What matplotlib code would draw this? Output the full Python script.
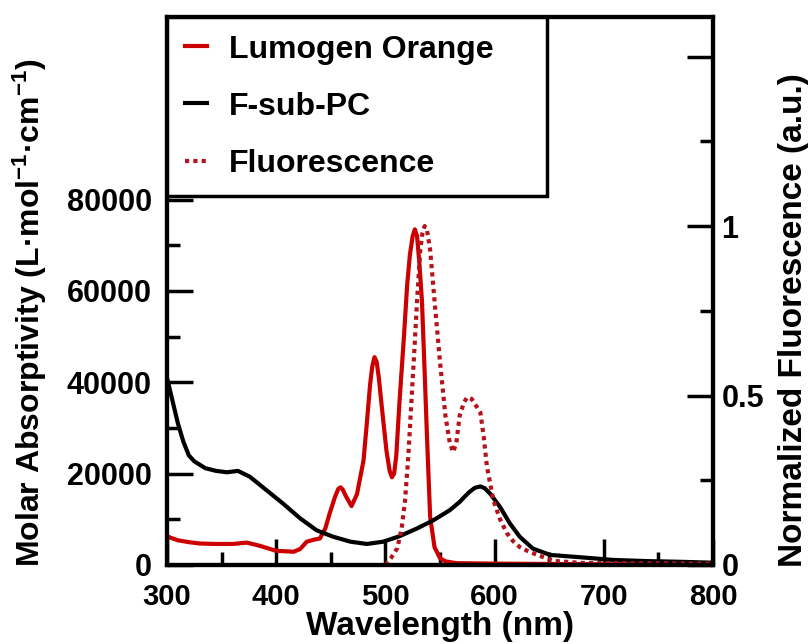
import numpy as np
import matplotlib
matplotlib.use("Agg")
import matplotlib.pyplot as plt
from matplotlib.ticker import MultipleLocator, FixedLocator

plt.rcParams['font.family'] = ['Liberation Sans', 'DejaVu Sans']
plt.rcParams['font.weight'] = 'bold'
plt.rcParams['mathtext.fontset'] = 'custom'
plt.rcParams['mathtext.rm'] = 'Liberation Sans:bold'
plt.rcParams['mathtext.bf'] = 'Liberation Sans:bold'
plt.rcParams['mathtext.default'] = 'regular'

# F-sub-PC absorption (molar absorptivity)
wl_pc = [300, 304, 310, 315, 320, 325, 335, 345, 355, 365, 376, 391, 406, 422, 437,
         452, 468, 483, 498, 513, 529, 544, 559, 568, 572, 577, 582, 587, 591, 596,
         605, 614, 623, 635, 651, 678, 709, 740, 770, 800]
eps_pc = [41000, 37000, 31000, 27000, 24000, 22700, 21200, 20600, 20300, 20600, 19300,
          16400, 13500, 10200, 7600, 6200, 5100, 4600, 5100, 6300, 8000, 9800, 12000,
          13800, 14800, 16000, 16900, 17200, 16800, 15600, 12700, 9100, 6200, 3600,
          2200, 1700, 1100, 850, 700, 500]

# Lumogen Orange absorption
wl_lo = [300, 303, 310, 320, 330, 345, 360, 373, 385, 400, 416, 422, 428, 434, 440,
         445, 449, 454, 457, 459, 461, 464, 469, 474, 480, 483, 486, 488, 490, 492,
         494, 497, 501, 504, 506, 508, 510, 513, 517, 520, 522.5, 525, 527, 529, 531,
         533.5, 536, 538, 541, 545, 550, 555, 565, 600, 700, 800]
eps_lo = [6300, 6000, 5400, 5000, 4700, 4600, 4600, 4900, 4200, 3100, 2900, 3500, 5100,
          5500, 5800, 8000, 11300, 15000, 16700, 17000, 16500, 15000, 12900, 15500,
          22900, 31000, 39500, 43500, 45500, 44500, 41000, 34000, 25000, 20500, 19200,
          20000, 24000, 36000, 50000, 61500, 68000, 72000, 73500, 72000, 66500, 57800,
          42000, 28800, 10500, 3900, 1500, 800, 400, 300, 150, 100]

# Lumogen Orange normalized fluorescence
wl_fl = [500, 505, 511, 515, 518, 521, 524, 527, 529, 532, 534, 536, 538, 541, 545,
         550, 555, 559, 562, 565, 568, 572, 575, 579, 583, 587, 590, 593, 599, 605,
         611, 617, 623, 631, 639, 654, 680, 720, 800]
fl = [0.0, 0.02, 0.05, 0.11, 0.19, 0.32, 0.49, 0.66, 0.78, 0.93, 0.98, 1.0, 0.99, 0.93,
      0.78, 0.6, 0.44, 0.36, 0.333, 0.36, 0.44, 0.48, 0.495, 0.49, 0.47, 0.45, 0.38,
      0.29, 0.19, 0.135, 0.095, 0.07, 0.053, 0.04, 0.03, 0.012, 0.006, 0.005, 0.004]

red = '#cc0000'
dark_red = '#b5121b'

fig = plt.figure(figsize=(8.09, 6.44), dpi=100)
ax = fig.add_axes([0.2064, 0.1227, 0.6749, 0.851])
ax2 = ax.twinx()

l_lo, = ax.plot(wl_lo, eps_lo, color=red, lw=3.0, label='Lumogen Orange')
l_pc, = ax.plot(wl_pc, eps_pc, color='black', lw=3.0, label='F-sub-PC')
l_fl, = ax2.plot(wl_fl, fl, color=dark_red, lw=3.0, ls=(0, (1, 1)), label='Fluorescence')

ax.set_xlim(300, 800)
ax.set_ylim(0, 120000)
ax2.set_ylim(0, 1.617)

ax.xaxis.set_major_locator(MultipleLocator(100))
ax.xaxis.set_minor_locator(MultipleLocator(50))
ax.yaxis.set_major_locator(FixedLocator([0, 20000, 40000, 60000, 80000]))
ax.yaxis.set_minor_locator(FixedLocator([10000, 30000, 50000, 70000, 90000]))
ax2.yaxis.set_major_locator(FixedLocator([0, 0.5, 1, 1.5]))
ax2.yaxis.set_minor_locator(FixedLocator([0.25, 0.75, 1.25]))
ax2.set_yticklabels(['0', '0.5', '1', ''])

for a in (ax, ax2):
    for s in a.spines.values():
        s.set_linewidth(3)
    a.tick_params(which='major', direction='in', length=19, width=2.5, labelsize=22, pad=6)
    a.tick_params(which='minor', direction='in', length=9.5, width=2.5)
ax.tick_params(axis='both', top=False, right=False, which='both')
ax.tick_params(axis='x', pad=13, labelsize=21)
ax.tick_params(axis='y', pad=11)

ax.set_xlabel('Wavelength (nm)', fontsize=24, fontweight='bold')
ax.set_ylabel('Molar Absorptivity (L·mol$^{-1}$·cm$^{-1}$)', fontsize=23,
              fontweight='bold')
ax2.set_ylabel('Normalized Fluorescence (a.u.)', fontsize=24, fontweight='bold')
ax.xaxis.label.set_va('center')
ax.yaxis.label.set_va('center')
ax2.yaxis.label.set_va('center')
ax.xaxis.set_label_coords(0.5, -0.113)
ax.yaxis.set_label_coords(-0.251, 0.46)
ax2.yaxis.set_label_coords(1.148, 0.447)

leg = ax2.legend(handles=[l_lo, l_pc, l_fl], loc='upper left',
                 bbox_to_anchor=(0.0, 0.679, 0.696, 0.321), mode='expand',
                 borderaxespad=0, fancybox=False, framealpha=1, edgecolor='black',
                 prop={'size': 23, 'weight': 'bold'}, handlelength=0.7,
                 handletextpad=0.7, labelspacing=0.85, borderpad=0.55)
leg.get_frame().set_linewidth(2.5)

fig.savefig('out.png', dpi=100)
